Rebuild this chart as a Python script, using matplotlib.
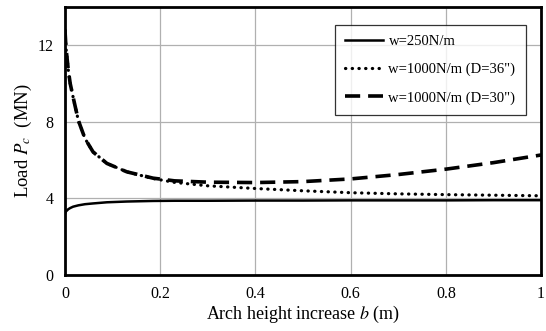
import matplotlib
matplotlib.use("Agg")
import matplotlib.pyplot as plt

plt.rcParams["font.family"] = ["Liberation Serif", "DejaVu Serif"]
plt.rcParams["mathtext.fontset"] = "stix"

# arch height increase b (m)
b = [0, 0.002, 0.007, 0.011, 0.017, 0.028, 0.042, 0.059, 0.088, 0.13, 0.185,
     0.23, 0.3, 0.4, 0.5, 0.6, 0.7, 0.8, 0.9, 1.0]
# load Pc (MN)
w250 = [3.2, 3.32, 3.44, 3.5, 3.57, 3.64, 3.7, 3.74, 3.8, 3.84, 3.87,
        3.88, 3.88, 3.89, 3.89, 3.9, 3.9, 3.9, 3.91, 3.91]
w1000_d36 = [12.8, 11.9, 10.7, 10.0, 9.3, 8.08, 7.13, 6.43, 5.83, 5.39, 5.04,
             4.84, 4.66, 4.52, 4.4, 4.3, 4.24, 4.2, 4.17, 4.14]
w1000_d30 = [12.8, 11.9, 10.7, 10.0, 9.3, 8.08, 7.13, 6.43, 5.83, 5.39, 5.06,
             4.92, 4.85, 4.83, 4.88, 5.02, 5.25, 5.53, 5.87, 6.27]

x_ticks = [0, 0.2, 0.4, 0.6, 0.8, 1.0]
x_tick_labels = ["0", "0.2", "0.4", "0.6", "0.8", "1"]
y_ticks = [0, 4, 8, 12]

fig = plt.figure(figsize=(5.46, 3.31), dpi=100)
ax = fig.add_axes([0.119, 0.169, 0.872, 0.81])

ax.plot(b, w250, color="black", lw=1.8, label="w=250N/m")
ax.plot(b, w1000_d36, color="black", lw=2.3, linestyle=(0, (0.1, 2.0)),
        dash_capstyle="round", label='w=1000N/m (D=36")')
ax.plot(b, w1000_d30, color="black", lw=2.6, linestyle=(0, (4.2, 2.2)),
        label='w=1000N/m (D=30")')

ax.set_xlim(0, 1)
ax.set_ylim(0, 14)
ax.set_xticks(x_ticks)
ax.set_xticklabels(x_tick_labels)
ax.set_yticks(y_ticks)
ax.tick_params(length=0, labelsize=11.5, pad=8)
ax.grid(True, color="#b0b0b0", lw=0.9)
ax.set_axisbelow(True)
for s in ax.spines.values():
    s.set_linewidth(2.0)

ax.set_xlabel("Arch height increase $b$ (m)", fontsize=13, labelpad=1)
ax.set_ylabel("Load $P_c$  (MN)", fontsize=13.5, labelpad=3)

leg = ax.legend(loc="upper right", bbox_to_anchor=(0.983, 0.96), fontsize=10.5,
                frameon=True, fancybox=False, edgecolor="black",
                handlelength=2.6, borderpad=0.7, labelspacing=1.0,
                handletextpad=0.4)
leg.get_frame().set_linewidth(0.9)

fig.savefig("out.png", dpi=100, facecolor="white")
